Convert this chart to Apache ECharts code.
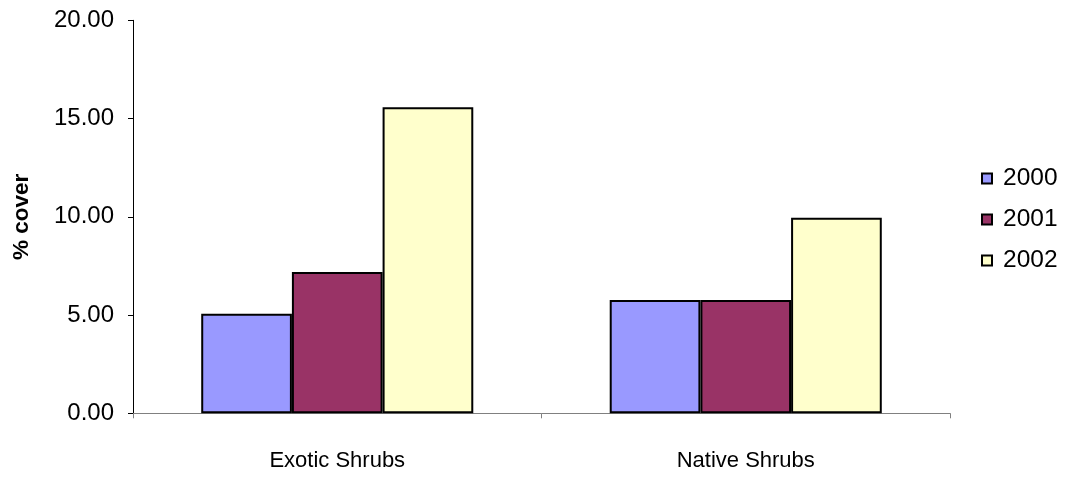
<!DOCTYPE html>
<html>
<head>
<meta charset="utf-8">
<script src="https://cdn.jsdelivr.net/npm/echarts@6/dist/echarts.min.js"></script>
<style>
  html, body { margin: 0; padding: 0; background: #fff; }
  #chart { width: 1068px; height: 477px; }
</style>
</head>
<body>
<div id="chart"></div>
<script>
// Shrub cover by year
const categories = ['Exotic Shrubs', 'Native Shrubs'];
const years = ['2000', '2001', '2002'];
const cover2000 = [5.07, 5.77];
const cover2001 = [7.19, 5.77];
const cover2002 = [15.57, 9.95];
const yTicks = { min: 0, max: 20, interval: 5 };

const colors = ['#9999FF', '#993366', '#FFFFCC'];
const values = [cover2000, cover2001, cover2002];
const font = 'Liberation Sans, Arial, sans-serif';

const chart = echarts.init(document.getElementById('chart'), null, { renderer: 'canvas' });
chart.setOption({
  animation: false,
  backgroundColor: '#ffffff',
  grid: { left: 133, top: 20.3, right: 118, bottom: 63.7, containLabel: false },
  legend: {
    orient: 'vertical',
    left: 981,
    top: 166,
    padding: 0,
    itemWidth: 10,
    itemHeight: 10,
    itemGap: 16,
    icon: 'rect',
    data: years,
    textStyle: { fontFamily: font, fontSize: 24.5, color: '#000', padding: [0, 0, 0, 6] }
  },
  xAxis: {
    type: 'category',
    data: categories,
    axisLine: { lineStyle: { color: '#808080', width: 1 } },
    axisTick: { show: true, length: 5, inside: false, lineStyle: { color: '#808080' }, alignWithLabel: false },
    axisLabel: { fontFamily: font, fontSize: 22, color: '#000', margin: 37 },
    splitLine: { show: false }
  },
  yAxis: {
    type: 'value',
    min: yTicks.min,
    max: yTicks.max,
    interval: yTicks.interval,
    name: '% cover',
    nameLocation: 'middle',
    nameRotate: 90,
    nameGap: 100,
    nameTextStyle: { fontFamily: font, fontSize: 22.5, fontWeight: 'bold', color: '#000' },
    axisLine: { show: true, lineStyle: { color: '#000', width: 1 } },
    axisTick: { show: true, length: 5, lineStyle: { color: '#000' } },
    axisLabel: {
      fontFamily: font, fontSize: 24, color: '#000', margin: 19,
      formatter: v => v.toFixed(2)
    },
    splitLine: { show: false }
  },
  series: years.map((y, i) => ({
    name: y,
    type: 'bar',
    data: values[i],
    barGap: '0%',
    barCategoryGap: '33.4%',
    itemStyle: { color: colors[i], borderColor: '#000', borderWidth: 2 }
  }))
});
</script>
</body>
</html>
